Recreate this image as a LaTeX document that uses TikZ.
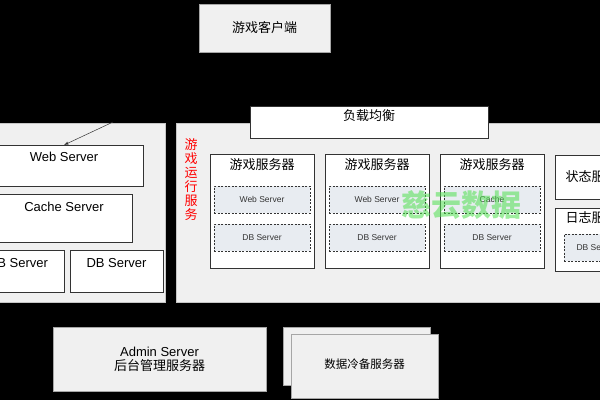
\documentclass[tikz,border=0pt]{standalone}
\usepackage{fontspec}
\setmainfont{Liberation Sans}
\newfontfamily\cjk{Noto Sans CJK SC}
\usepackage{xcolor}
\usepackage{tikz}
\usetikzlibrary{arrows,positioning}

\definecolor{panelgray}{HTML}{F0F0F0}
\definecolor{dashfill}{HTML}{E8ECF1}
\definecolor{edgegray}{HTML}{333333}
\definecolor{wmgreen}{HTML}{4FE04F}

\begin{document}
\begin{tikzpicture}[x=1pt, y=-1pt,
  wh/.style 2 args={minimum width=#1pt, minimum height=#2pt},
  panel/.style={draw=gray!45, fill=panelgray, line width=0.5pt, inner sep=0pt, outer sep=0pt},
  box/.style={draw=edgegray, fill=white, line width=0.7pt, inner sep=0pt, outer sep=0pt},
  dbox/.style={draw=edgegray, dash pattern=on 2pt off 1.5pt, fill=dashfill, line width=0.6pt,
    inner sep=0pt, outer sep=0pt, minimum width=96pt, minimum height=27pt},
  big/.style={font=\fontsize{13}{15}\selectfont},
  bigcn/.style={font=\cjk\fontsize{13}{15}\selectfont},
  small/.style={font=\fontsize{8.5}{10}\selectfont, text=black!80}]

\useasboundingbox (0,0) rectangle (600,400);
\clip (0,0) rectangle (600,400);
\fill[black] (0,0) rectangle (600,400);

% Client
\node[panel, draw=gray!70, wh={131}{48}] (client) at (264.5,28) {};
\node[bigcn] (clientt) at (264.5,28) {游戏客户端};

% Panels
\node[panel, wh={180}{179}] (lpanel) at (75,212.5) {};
\node[panel, wh={429}{179}] (rpanel) at (390.5,212.5) {};

% Load balancer
\node[box, wh={238}{32}] (lb) at (369,122) {};
\node[bigcn] (lbt) at (369,116) {负载均衡};

% Left side servers
\node[box, wh={158}{41}] (web) at (64,165.5) {};
\node[big] (webt) at (64,157) {Web Server};

\node[box, wh={147}{48}] (cache) at (58.5,218) {};
\node[big] (cachet) at (64,207) {Cache Server};

\node[box, wh={89}{42}] (dba) at (19.5,271) {};
\node[big] (dbat) at (18,263) {DB Server};

\node[box, wh={93}{42}] (dbb) at (116.5,271) {};
\node[big] (dbbt) at (116.5,263) {DB Server};

\coordinate (src) at (113,122);
\draw[-latex, edgegray, line width=0.5pt] (src) -- (web.north);

% Game run service
\node[font=\cjk\fontsize{13}{14}\selectfont, text=red, align=center, inner sep=0pt] (runt) at (191,180)
  {游\\戏\\运\\行\\服\\务};

\foreach \i/\x/\txa/\txb in {1/262/Web Server/DB Server, 2/377/Web Server/DB Server, 3/492/Cache/DB Server} {
  \node[box, wh={104}{114}] (gs\i) at (\x,211) {};
  \node[bigcn] (gs\i t) at (\x,165) {游戏服务器};
  \node[dbox, small] (gs\i a) at (\x,199.5) {\txa};
  \node[dbox, small] (gs\i b) at (\x,237.5) {\txb};
}

% Status and log servers
\node[box, wh={65}{44}] (status) at (587.5,177) {};
\node[bigcn, anchor=west] (statust) at (562,177) {状态服务器};

\node[box, wh={65}{63}] (log) at (587.5,239.5) {};
\node[bigcn, anchor=west] (logt) at (562,218) {日志服务器};
\node[dbox, wh={56}{27}] (logdb) at (592,247.5) {};
\node[small, anchor=west] (logdbt) at (573,247.5) {DB Server};

% Bottom servers
\node[panel, draw=gray!70, wh={213}{64}] (admin) at (159.5,359) {};
\node[big, align=center] (admint) at (159.5,359) {Admin Server\\[-1pt]{\cjk 后台管理服务器}};

\node[panel, draw=gray!70, wh={147}{58}] (coldb) at (356.5,356) {};
\node[panel, draw=gray!70, wh={147}{64}] (cold) at (364.5,366) {};
\node[font=\cjk\fontsize{11.5}{13}\selectfont] (coldt) at (364.5,364) {数据冷备服务器};

% Watermark
\node[font=\cjk\bfseries\fontsize{30}{32}\selectfont, text=wmgreen, opacity=0.55] (wm) at (461,205) {慈云数据};

\end{tikzpicture}
\end{document}
